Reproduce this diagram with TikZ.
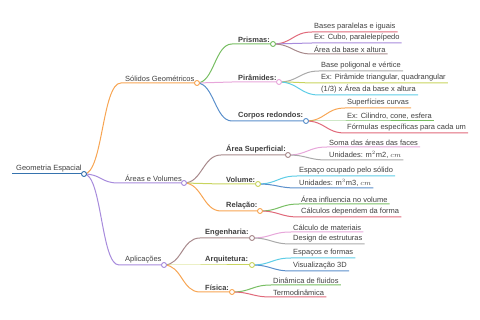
\documentclass[tikz,border=0pt]{standalone}
\usepackage{fontspec}
\setmainfont{Liberation Sans}
\definecolor{txt}{HTML}{404040}
\definecolor{cRoot}{HTML}{3673AE}
\definecolor{cOr}{HTML}{F7A553}
\definecolor{cGr}{HTML}{78BE63}
\definecolor{cPk}{HTML}{E7A6DA}
\definecolor{cBl}{HTML}{5A8FCB}
\definecolor{cRd}{HTML}{E0697A}
\definecolor{cPu}{HTML}{A78BDC}
\definecolor{cBr}{HTML}{A88A8C}
\definecolor{cGy}{HTML}{AAAAAA}
\definecolor{cYg}{HTML}{C8D45E}
\definecolor{cCy}{HTML}{5DCDE6}
\tikzset{
  lbl/.style={font=\fontsize{7.5}{9}\selectfont, text=txt, inner xsep=0pt, inner ysep=1.6pt, anchor=south west},
  bl/.style={lbl, font=\fontsize{7.5}{9}\selectfont\bfseries},
  leaf/.style={lbl, inner xsep=2pt},
  dot/.style={circle, draw, fill=white, minimum size=5pt, inner sep=0pt, line width=0.9pt},
  lk/.style={line width=1pt},
}
\begin{document}
\begin{tikzpicture}[x=1pt,y=-1pt]
\useasboundingbox (0,0) rectangle (480,320);
% root
\coordinate (rootS) at (12,174);
\node[lbl] (root) at (16,174) {Geometria Espacial};
% level 1
\coordinate (solS) at (121,83);
\node[lbl] (sol) at (125,83) {Sólidos Geométricos};
\coordinate (areS) at (118,183);
\node[lbl] (are) at (125,183) {Áreas e Volumes};
\coordinate (aplS) at (119,265);
\node[lbl] (apl) at (125,265) {Aplicações};
% level 2
\coordinate (priS) at (232,44);
\node[bl] (pri) at (238,44) {Prismas:};
\coordinate (pirS) at (232,82);
\node[bl] (pir) at (238,82) {Pirâmides:};
\coordinate (corS) at (232,121);
\node[bl] (cor) at (238,121) {Corpos redondos:};
\coordinate (asuS) at (221,155);
\node[bl] (asu) at (226,155) {Área Superficial:};
\coordinate (volS) at (221,184);
\node[bl] (vol) at (226,184) {Volume:};
\coordinate (relS) at (221,211);
\node[bl] (rel) at (226,211) {Relação:};
\coordinate (engS) at (200,238);
\node[bl] (eng) at (205,238) {Engenharia:};
\coordinate (arqS) at (200,265);
\node[bl] (arq) at (205,265) {Arquitetura:};
\coordinate (fisS) at (200,292);
\node[bl] (fis) at (205,292) {Física:};
% leaves
\node[leaf] (p1) at (312,32) {Bases paralelas e iguais};
\node[leaf] (p2) at (312,43) {Ex: Cubo, paralelepípedo};
\node[leaf] (p3) at (312,54) {Área da base x altura};
\node[leaf] (q1) at (319,71) {Base poligonal e vértice};
\node[leaf] (q2) at (319,83) {Ex: Pirâmide triangular, quadrangular};
\node[leaf] (q3) at (319,95) {(1/3) x Área da base x altura};
\node[leaf] (r1) at (345,108) {Superfícies curvas};
\node[leaf] (r2) at (345,121) {Ex: Cilindro, cone, esfera};
\node[leaf] (r3) at (345,133) {Fórmulas específicas para cada um};
\node[leaf] (s1) at (327,147) {Soma das áreas das faces};
\node[leaf] (s2) at (327,160) {Unidades: $\mathrm{m}^2$m2, $cm$};
\node[leaf] (v1) at (297,176) {Espaço ocupado pelo sólido};
\node[leaf] (v2) at (297,188) {Unidades: $\mathrm{m}^3$m3, $cm$};
\node[leaf] (l1) at (299,204) {Área influencia no volume};
\node[leaf] (l2) at (299,217) {Cálculos dependem da forma};
\node[leaf] (e1) at (291,232) {Cálculo de materiais};
\node[leaf] (e2) at (291,244) {Design de estruturas};
\node[leaf] (a1) at (291,258) {Espaços e formas};
\node[leaf] (a2) at (291,271) {Visualização 3D};
\node[leaf] (f1) at (271,285) {Dinâmica de fluidos};
\node[leaf] (f2) at (271,297) {Termodinâmica};
% circle positions
\coordinate (rootC) at (84,174);
\coordinate (solC) at (197,83);
\coordinate (areC) at (184,183);
\coordinate (aplC) at (164,265);
\coordinate (priC) at (273,44);
\coordinate (pirC) at (279,82);
\coordinate (corC) at (306,121);
\coordinate (asuC) at (288,155);
\coordinate (volC) at (258,184);
\coordinate (relC) at (260,211);
\coordinate (engC) at (252,238);
\coordinate (arqC) at (252,265);
\coordinate (fisC) at (232,292);
% connectors
\draw[lk, cRoot] (rootS) -- (rootC);
\draw[lk, cOr] (rootC) .. controls +(19,0) and +(-19,0) .. (solS) -- (solC);
\draw[lk, cPu] (rootC) .. controls +(17,0) and +(-17,0) .. (areS) -- (areC);
\draw[lk, cPu] (rootC) .. controls +(18,0) and +(-18,0) .. (aplS) -- (aplC);
\draw[lk, cGr] (solC) .. controls +(17,0) and +(-17,0) .. (priS) -- (priC);
\draw[lk, cPk] (solC) .. controls +(17,0) and +(-17,0) .. (pirS) -- (pirC);
\draw[lk, cBl] (solC) .. controls +(17,0) and +(-17,0) .. (corS) -- (corC);
\draw[lk, cBr] (areC) .. controls +(18,0) and +(-18,0) .. (asuS) -- (asuC);
\draw[lk, cYg] (areC) .. controls +(18,0) and +(-18,0) .. (volS) -- (volC);
\draw[lk, cOr] (areC) .. controls +(18,0) and +(-18,0) .. (relS) -- (relC);
\draw[lk, cBr] (aplC) .. controls +(18,0) and +(-18,0) .. (engS) -- (engC);
\draw[lk, cYg] (aplC) .. controls +(18,0) and +(-18,0) .. (arqS) -- (arqC);
\draw[lk, cOr] (aplC) .. controls +(18,0) and +(-18,0) .. (fisS) -- (fisC);
\draw[lk, cRd] (priC) .. controls +(19,0) and +(-19,0) .. (p1.south west) -- (p1.south east);
\draw[lk, cPu] (priC) .. controls +(19,0) and +(-19,0) .. (p2.south west) -- (p2.south east);
\draw[lk, cBr] (priC) .. controls +(19,0) and +(-19,0) .. (p3.south west) -- (p3.south east);
\draw[lk, cGy] (pirC) .. controls +(19,0) and +(-19,0) .. (q1.south west) -- (q1.south east);
\draw[lk, cYg] (pirC) .. controls +(19,0) and +(-19,0) .. (q2.south west) -- (q2.south east);
\draw[lk, cCy] (pirC) .. controls +(19,0) and +(-19,0) .. (q3.south west) -- (q3.south east);
\draw[lk, cOr] (corC) .. controls +(19,0) and +(-19,0) .. (r1.south west) -- (r1.south east);
\draw[lk, cGr] (corC) .. controls +(19,0) and +(-19,0) .. (r2.south west) -- (r2.south east);
\draw[lk, cRd] (corC) .. controls +(19,0) and +(-19,0) .. (r3.south west) -- (r3.south east);
\draw[lk, cPk] (asuC) .. controls +(19,0) and +(-19,0) .. (s1.south west) -- (s1.south east);
\draw[lk, cGy] (asuC) .. controls +(19,0) and +(-19,0) .. (s2.south west) -- (s2.south east);
\draw[lk, cCy] (volC) .. controls +(19,0) and +(-19,0) .. (v1.south west) -- (v1.south east);
\draw[lk, cBl] (volC) .. controls +(19,0) and +(-19,0) .. (v2.south west) -- (v2.south east);
\draw[lk, cGr] (relC) .. controls +(19,0) and +(-19,0) .. (l1.south west) -- (l1.south east);
\draw[lk, cRd] (relC) .. controls +(19,0) and +(-19,0) .. (l2.south west) -- (l2.south east);
\draw[lk, cPk] (engC) .. controls +(19,0) and +(-19,0) .. (e1.south west) -- (e1.south east);
\draw[lk, cGy] (engC) .. controls +(19,0) and +(-19,0) .. (e2.south west) -- (e2.south east);
\draw[lk, cCy] (arqC) .. controls +(19,0) and +(-19,0) .. (a1.south west) -- (a1.south east);
\draw[lk, cBl] (arqC) .. controls +(19,0) and +(-19,0) .. (a2.south west) -- (a2.south east);
\draw[lk, cGr] (fisC) .. controls +(19,0) and +(-19,0) .. (f1.south west) -- (f1.south east);
\draw[lk, cRd] (fisC) .. controls +(19,0) and +(-19,0) .. (f2.south west) -- (f2.south east);
% circles on top
\node[dot, draw=cRoot] (rootDot) at (rootC) {};
\node[dot, draw=cOr] (solDot) at (solC) {};
\node[dot, draw=cPu] (areDot) at (areC) {};
\node[dot, draw=cPu] (aplDot) at (aplC) {};
\node[dot, draw=cGr] (priDot) at (priC) {};
\node[dot, draw=cPk] (pirDot) at (pirC) {};
\node[dot, draw=cBl] (corDot) at (corC) {};
\node[dot, draw=cBr] (asuDot) at (asuC) {};
\node[dot, draw=cYg] (volDot) at (volC) {};
\node[dot, draw=cOr] (relDot) at (relC) {};
\node[dot, draw=cBr] (engDot) at (engC) {};
\node[dot, draw=cYg] (arqDot) at (arqC) {};
\node[dot, draw=cOr] (fisDot) at (fisC) {};
\end{tikzpicture}
\end{document}
